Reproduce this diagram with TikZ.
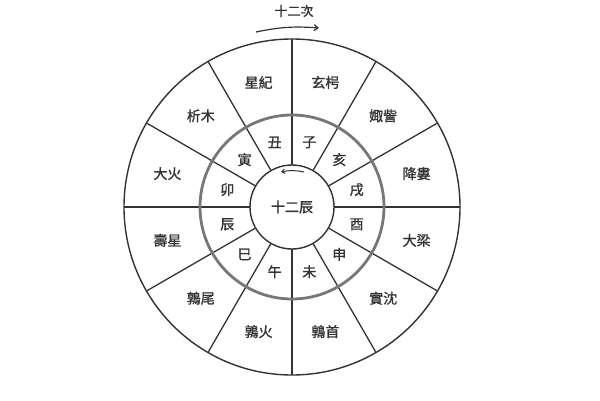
\documentclass[tikz,border=0pt]{standalone}
\usepackage{fontspec}
\newfontfamily\cjk[FakeBold=1.2]{Noto Sans CJK TC}
\usetikzlibrary{arrows.meta,calc}
\definecolor{ink}{HTML}{333333}
\definecolor{midring}{HTML}{777777}
\tikzset{
  ring/.style={draw=ink, line width=1.4pt},
  thickring/.style={draw=midring, line width=2.8pt},
  spoke/.style={draw=ink, line width=1.3pt},
  lab/.style={text=ink, font=\cjk\fontsize{14}{14}\selectfont, inner sep=0pt},
  toplab/.style={text=ink, font=\cjk\fontsize{13}{13}\selectfont, inner sep=0pt},
  arr/.style={draw=ink, line width=1.2pt, -{Straight Barb[length=4pt,width=6pt]}}
}
\begin{document}
\begin{tikzpicture}[x=1pt,y=1pt]
\useasboundingbox[fill=white] (0,0) rectangle (600,400);
\coordinate (O) at (292,193);
% radial spokes
\foreach \a in {0,30,...,330}
  \draw[spoke] ($(O)+(\a:42)$) -- ($(O)+(\a:168)$);
% circles
\draw[ring] (O) circle[radius=168];
\draw[thickring] (O) circle[radius=92];
\draw[ring] (O) circle[radius=42];
% inner ring labels (twelve branches)
\foreach \a/\t/\n in {15/戌/b1,45/亥/b2,75/子/b3,105/丑/b4,135/寅/b5,165/卯/b6,195/辰/b7,225/巳/b8,255/午/b9,285/未/b10,315/申/b11,345/酉/b12}
  \node[lab] (\n) at ($(O)+(\a:67)$) {\t};
% outer ring labels (twelve stations)
\foreach \a/\t/\n in {15/降婁/s1,45/娵訾/s2,75/玄枵/s3,105/星紀/s4,135/析木/s5,165/大火/s6,195/壽星/s7,225/鶉尾/s8,255/鶉火/s9,285/鶉首/s10,315/實沈/s11,345/大梁/s12}
  \node[lab] (\n) at ($(O)+(\a:129)$) {\t};
% centre
\node[lab] (center) at (O) {十二辰};
\coordinate (ia) at (304,228);
\coordinate (ib) at (281,228);
\draw[arr, line width=1pt, -{Straight Barb[length=3pt,width=4.5pt]}] (ia) to[bend right=12] (ib);
% top title and arrow
\node[toplab] (title) at (294,389) {十二次};
\coordinate (ta) at (256,368);
\coordinate (tb) at (319,372);
\draw[arr] (ta) to[bend left=8] (tb);
\end{tikzpicture}
\end{document}
